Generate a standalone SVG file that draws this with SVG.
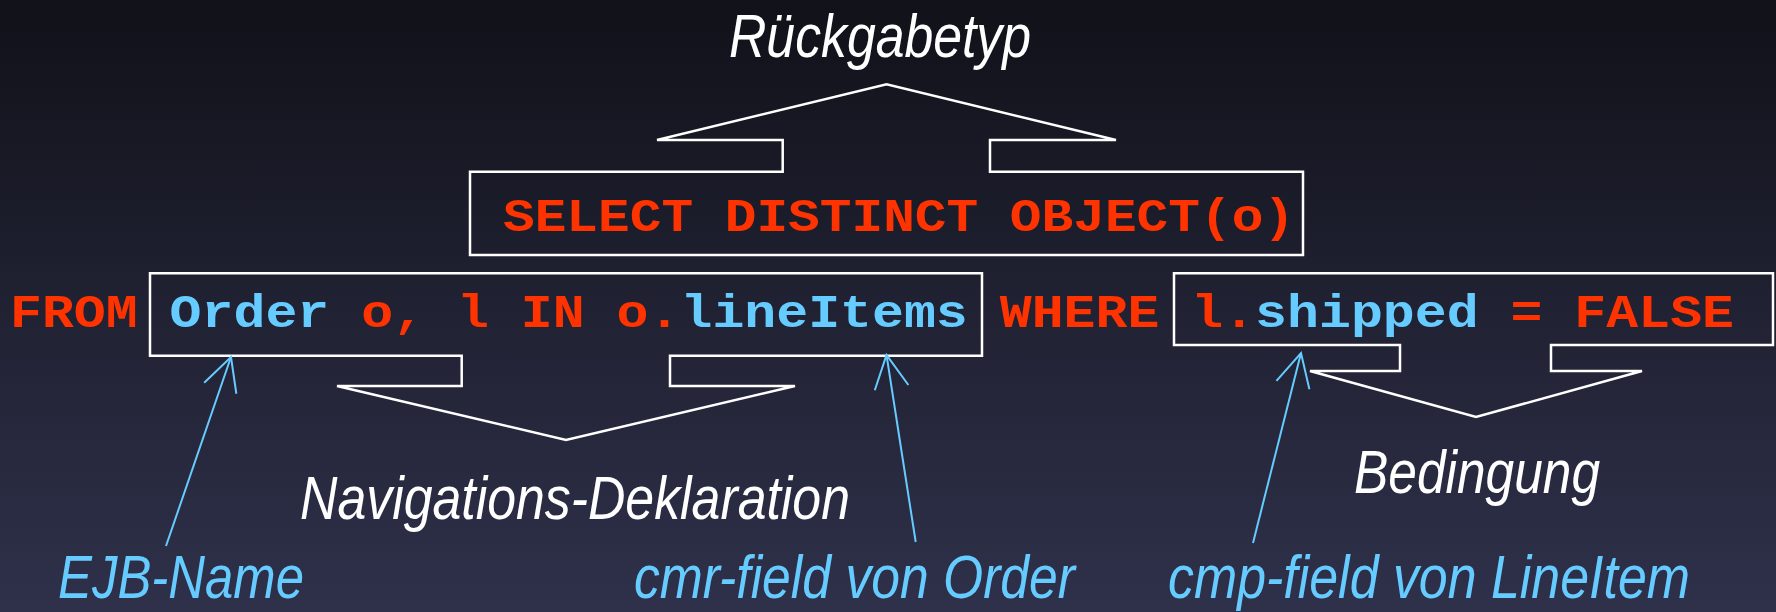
<svg xmlns="http://www.w3.org/2000/svg" width="1776" height="612" viewBox="0 0 1776 612">
  <defs>
    <linearGradient id="bg" x1="0" y1="0" x2="0" y2="1">
      <stop offset="0" stop-color="#111119"/>
      <stop offset="1" stop-color="#2f314b"/>
    </linearGradient>
    <marker id="open-arrow" markerUnits="userSpaceOnUse" orient="auto" refX="0" refY="0" markerWidth="80" markerHeight="80" viewBox="-40 -40 80 80" overflow="visible">
      <path d="M-33,-17 L0,0 L-33,17" fill="none" stroke="#66ccff" stroke-width="2"/>
    </marker>
    <style>
      .frame { fill: none; stroke: #ffffff; stroke-width: 2.5; stroke-linejoin: miter; }
      .code { font-family: "Liberation Mono", "Courier New", monospace; font-weight: bold; font-size: 47px; fill: #ff3300; }
      .kw { fill: #ff3300; }
      .id { fill: #66ccff; }
      .label { font-family: "Liberation Sans", Arial, sans-serif; font-style: italic; font-size: 62px; }
      .white { fill: #ffffff; }
      .blue { fill: #66ccff; }
      .pointer { fill: none; stroke: #66ccff; stroke-width: 2; marker-end: url(#open-arrow); }
    </style>
  </defs>

  <rect x="0" y="0" width="1776" height="612" fill="url(#bg)"/>

  <!-- SELECT clause with callout to the return type -->
  <g id="select-clause">
    <path class="frame" d="M470,255 L470,171.7 L782.7,171.7 L782.7,140 L657,140 L886.6,84.3 L1116,140 L990,140 L990,171.7 L1303,171.7 L1303,255 Z"/>
    <text class="code" x="503" y="231" textLength="792" lengthAdjust="spacingAndGlyphs">SELECT DISTINCT OBJECT(o)</text>
  </g>

  <!-- FROM / WHERE line -->
  <g id="query-line">
    <text class="code" x="10" y="327" textLength="1724" lengthAdjust="spacingAndGlyphs"><tspan class="kw">FROM </tspan><tspan class="id">Order</tspan><tspan class="kw"> o, l IN o.</tspan><tspan class="id">lineItems</tspan><tspan class="kw"> WHERE l.</tspan><tspan class="id">shipped</tspan><tspan class="kw"> = FALSE</tspan></text>
  </g>

  <!-- FROM clause frame with callout to the navigation declaration -->
  <g id="from-clause">
    <path class="frame" d="M150,273.3 L982,273.3 L982,355.7 L670,355.7 L670,386 L795,386 L566,440 L337,386 L461.7,386 L461.7,355.7 L150,355.7 Z"/>
  </g>

  <!-- WHERE clause frame with callout to the condition -->
  <g id="where-clause">
    <path class="frame" d="M1174,273.3 L1773,273.3 L1773,345 L1551,345 L1551,371 L1642,371 L1476,417 L1310,371 L1400,371 L1400,345 L1174,345 Z"/>
  </g>

  <!-- captions -->
  <g id="label-return-type">
    <text class="label white" x="729" y="57" textLength="302" lengthAdjust="spacingAndGlyphs">Rückgabetyp</text>
  </g>
  <g id="label-navigation">
    <text class="label white" x="300" y="519" textLength="550" lengthAdjust="spacingAndGlyphs">Navigations-Deklaration</text>
  </g>
  <g id="label-condition">
    <text class="label white" x="1354" y="493" textLength="246" lengthAdjust="spacingAndGlyphs">Bedingung</text>
  </g>
  <g id="label-ejb-name">
    <text class="label blue" x="58" y="598" textLength="246" lengthAdjust="spacingAndGlyphs">EJB-Name</text>
  </g>
  <g id="label-cmr-field">
    <text class="label blue" x="634" y="598" textLength="441" lengthAdjust="spacingAndGlyphs">cmr-field von Order</text>
  </g>
  <g id="label-cmp-field">
    <text class="label blue" x="1168" y="598" textLength="522" lengthAdjust="spacingAndGlyphs">cmp-field von LineItem</text>
  </g>

  <!-- pointers from captions to the query parts -->
  <g id="connectors">
    <line class="pointer" x1="166" y1="546" x2="231" y2="357"/>
    <line class="pointer" x1="915.7" y1="542" x2="886.5" y2="355"/>
    <line class="pointer" x1="1253" y1="543" x2="1301" y2="353"/>
  </g>
</svg>
